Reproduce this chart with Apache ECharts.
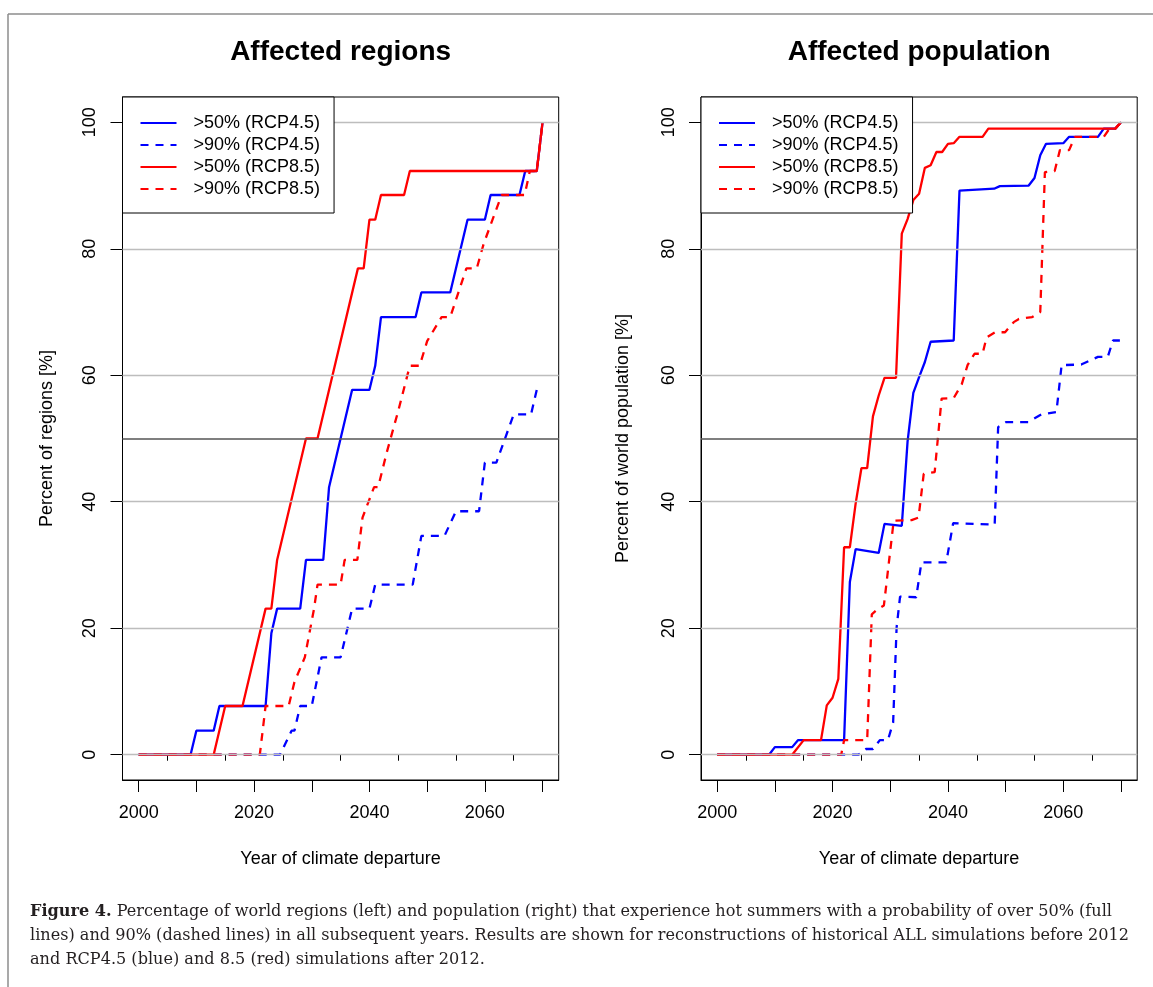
<!DOCTYPE html>
<html>
<head>
<meta charset="utf-8">
<title>Affected regions and population</title>
<script src="https://cdn.jsdelivr.net/npm/echarts@6/dist/echarts.min.js"></script>
<style>
  html, body { margin: 0; padding: 0; background: #fff; }
  #chart { width: 1153px; height: 987px; }
</style>
</head>
<body>
<div id="chart"></div>
<script>
// values: year of departure -> percent affected
var names = ['>50% (RCP4.5)', '>90% (RCP4.5)', '>50% (RCP8.5)', '>90% (RCP8.5)'];

// left panel: percent of regions
var reg50_45_years = [2000, 2009, 2010, 2013, 2014, 2022, 2023, 2024, 2028, 2029, 2032, 2033, 2037, 2040, 2041, 2042, 2048, 2049, 2054, 2057, 2060, 2061, 2066, 2067, 2069, 2070];
var reg50_45_vals = [0, 0, 3.8, 3.8, 7.7, 7.7, 19.2, 23.1, 23.1, 30.8, 30.8, 42.3, 57.7, 57.7, 61.5, 69.2, 69.2, 73.1, 73.1, 84.6, 84.6, 88.5, 88.5, 92.3, 92.3, 100];

var reg90_45_years = [2000, 2024.5, 2026.5, 2027, 2028, 2030, 2031.7, 2035, 2037, 2040, 2041, 2047.5, 2049, 2053, 2055, 2059, 2060, 2062, 2065, 2068, 2069];
var reg90_45_vals = [0, 0, 3.8, 3.8, 7.7, 7.7, 15.4, 15.4, 23.1, 23.1, 26.9, 26.9, 34.6, 34.6, 38.5, 38.5, 46.2, 46.2, 53.8, 53.8, 57.7];

var reg50_85_years = [2000, 2013, 2015, 2018, 2022, 2023, 2024, 2029, 2031, 2038, 2039, 2040, 2041, 2042, 2046, 2047, 2069, 2070];
var reg50_85_vals = [0, 0, 7.7, 7.7, 23.1, 23.1, 30.8, 50, 50, 76.9, 76.9, 84.6, 84.6, 88.5, 88.5, 92.3, 92.3, 100];

var reg90_85_years = [2000, 2021, 2022, 2026, 2027, 2028.8, 2030.4, 2031, 2035, 2035.7, 2037.9, 2038.8, 2039.8, 2040.8, 2041.5, 2043, 2045, 2047, 2048.7, 2050, 2052.5, 2054, 2056.8, 2058.6, 2059.8, 2062.9, 2066.9, 2067.8, 2069, 2070];
var reg90_85_vals = [0, 0, 7.7, 7.7, 11.5, 15.4, 23.1, 26.9, 26.9, 30.8, 30.8, 37.5, 39.9, 42.3, 42.3, 47.8, 54.4, 61.5, 61.5, 65.4, 69.2, 69.2, 76.9, 76.9, 80.8, 88.5, 88.5, 92.3, 92.3, 100];

// right panel: percent of world population
var pop50_45_years = [2000, 2009, 2010, 2013, 2014, 2022, 2023, 2024, 2028, 2029, 2032, 2033, 2034, 2035, 2036, 2037, 2041, 2042, 2048, 2049, 2054, 2055, 2056, 2057, 2060, 2061, 2066, 2067, 2069, 2070];
var pop50_45_vals = [0, 0, 1.2, 1.2, 2.3, 2.3, 27.3, 32.5, 31.9, 36.5, 36.2, 49.5, 57.2, 59.7, 62.1, 65.3, 65.5, 89.2, 89.5, 89.9, 90.0, 91.2, 94.8, 96.6, 96.7, 97.7, 97.7, 99, 99, 100];

var pop90_45_years = [2000, 2024.5, 2025.8, 2027, 2028.2, 2029.6, 2030.5, 2031.1, 2031.7, 2034.5, 2035.4, 2039.7, 2040.9, 2048.1, 2048.7, 2050.1, 2053.9, 2056.2, 2058.8, 2059.7, 2063.1, 2066, 2067.7, 2068.6, 2069.8];
var pop90_45_vals = [0, 0, 0.9, 0.9, 2.3, 2.3, 5.1, 20.1, 25.0, 24.9, 30.4, 30.4, 36.6, 36.4, 51.8, 52.6, 52.6, 53.8, 54.2, 61.6, 61.7, 62.9, 62.9, 65.5, 65.5];

var pop50_85_years = [2000, 2013, 2015, 2018, 2019, 2020, 2021, 2022, 2023, 2024, 2025, 2026, 2027, 2028, 2029, 2031, 2032, 2033, 2034, 2035, 2036, 2037, 2038, 2039, 2040, 2041, 2042, 2046, 2047, 2069, 2070];
var pop50_85_vals = [0, 0, 2.3, 2.3, 7.8, 9.0, 12.0, 32.8, 32.8, 39.7, 45.3, 45.3, 53.5, 56.8, 59.6, 59.6, 82.4, 84.7, 87.7, 88.7, 92.8, 93.2, 95.3, 95.3, 96.6, 96.7, 97.7, 97.7, 99, 99, 100];

var pop90_85_years = [2000, 2021.5, 2022, 2026, 2026.8, 2027.8, 2028.9, 2030.6, 2033.7, 2034.9, 2035.8, 2037.7, 2038.9, 2041, 2042.4, 2043.4, 2044.6, 2046, 2046.7, 2048.2, 2049.9, 2051.4, 2052.3, 2054.6, 2056, 2056.8, 2058.5, 2059.4, 2061, 2062, 2067, 2068, 2069, 2070];
var pop90_85_vals = [0, 0, 2.3, 2.3, 22.2, 23.0, 23.6, 37.0, 37.1, 37.5, 44.4, 44.7, 56.3, 56.4, 58.6, 61.6, 63.4, 63.4, 66.0, 66.8, 66.8, 68.4, 68.9, 69.2, 70.0, 92.1, 92.3, 95.6, 95.6, 97.7, 97.7, 99, 99, 100];

// axis ticks and labels
var xMajorTicks = [2000, 2010, 2020, 2030, 2040, 2050, 2060, 2070];
var xMinorTicks = [2005, 2015, 2025, 2035, 2045, 2055, 2065];
var xLabels = [2000, 2020, 2040, 2060];
var yTicks = [0, 20, 40, 60, 80, 100];

var FONT = '"Liberation Sans", Arial, Helvetica, sans-serif';
var SERIF = '"DejaVu Serif", "Liberation Serif", serif';
var BLUE = '#0000ff';
var RED = '#ff0000';
var DASH = [8, 7];

function zip(xs, ys) {
  return xs.map(function (x, i) { return [x, ys[i]]; });
}

var chart = echarts.init(document.getElementById('chart'), null, { renderer: 'canvas' });

var grids = [
  { left: 122.5, top: 97, width: 436.2, height: 683 },
  { left: 701, top: 97, width: 436.2, height: 683 }
];
var yNames = ['Percent of regions [%]', 'Percent of world population [%]'];

var xAxes = [];
var yAxes = [];
grids.forEach(function (g, i) {
  xAxes.push({
    gridIndex: i,
    type: 'value',
    min: 1997.2,
    max: 2072.8,
    axisLine: { show: true, onZero: false, lineStyle: { color: '#000', width: 1 } },
    axisTick: { show: true, customValues: xMajorTicks, length: 12, lineStyle: { color: '#000', width: 1 } },
    axisLabel: {
      customValues: xLabels, fontSize: 18, color: '#000', fontFamily: FONT, margin: 24,
      formatter: function (v) { return String(v); }
    },
    splitLine: { show: false },
    name: 'Year of climate departure',
    nameLocation: 'middle',
    nameGap: 70,
    nameTextStyle: { fontSize: 18, color: '#000', fontFamily: FONT }
  });
  // short 5-year ticks
  xAxes.push({
    gridIndex: i,
    type: 'value',
    min: 1997.2,
    max: 2072.8,
    position: 'bottom',
    axisLine: { show: false },
    axisTick: { show: true, customValues: xMinorTicks, length: 6, lineStyle: { color: '#000', width: 1 } },
    axisLabel: { show: false },
    splitLine: { show: false }
  });
  yAxes.push({
    gridIndex: i,
    type: 'value',
    min: -4,
    max: 104,
    axisLine: { show: true, onZero: false, lineStyle: { color: '#000', width: 1 } },
    axisTick: { show: true, customValues: yTicks, length: 12, lineStyle: { color: '#000', width: 1 } },
    axisLabel: {
      customValues: yTicks, rotate: 90, fontSize: 18, color: '#000', fontFamily: FONT, margin: 23,
      formatter: function (v) { return String(v); }
    },
    splitLine: { show: false },
    name: yNames[i],
    nameLocation: 'middle',
    nameGap: i === 0 ? 66 : 69,
    nameTextStyle: { fontSize: 18, color: '#000', fontFamily: FONT }
  });
});

function curve(name, xIdx, yIdx, years, vals, color, dashed) {
  return {
    name: name,
    type: 'line',
    xAxisIndex: xIdx,
    yAxisIndex: yIdx,
    data: zip(years, vals),
    showSymbol: false,
    symbol: 'none',
    z: 3,
    color: color,
    lineStyle: { color: color, width: 2.3, type: dashed ? DASH : 'solid' },
    emphasis: { disabled: true }
  };
}

function gridLines(xIdx, yIdx) {
  var data = yTicks.map(function (v) { return { yAxis: v }; });
  data.push({ yAxis: 50, lineStyle: { color: '#555', width: 1.6 } });
  return {
    type: 'line',
    xAxisIndex: xIdx,
    yAxisIndex: yIdx,
    data: [],
    z: 1,
    silent: true,
    markLine: {
      silent: true,
      symbol: 'none',
      label: { show: false },
      lineStyle: { color: '#bdbdbd', width: 1.3, type: 'solid' },
      data: data
    }
  };
}

var series = [
  gridLines(0, 0),
  curve(names[0], 0, 0, reg50_45_years, reg50_45_vals, BLUE, false),
  curve(names[1], 0, 0, reg90_45_years, reg90_45_vals, BLUE, true),
  curve(names[2], 0, 0, reg50_85_years, reg50_85_vals, RED, false),
  curve(names[3], 0, 0, reg90_85_years, reg90_85_vals, RED, true),
  gridLines(2, 1),
  curve(names[0], 2, 1, pop50_45_years, pop50_45_vals, BLUE, false),
  curve(names[1], 2, 1, pop90_45_years, pop90_45_vals, BLUE, true),
  curve(names[2], 2, 1, pop50_85_years, pop50_85_vals, RED, false),
  curve(names[3], 2, 1, pop90_85_years, pop90_85_vals, RED, true)
];

function legendAt(left) {
  return {
    left: left,
    top: 97,
    orient: 'vertical',
    data: names,
    selectedMode: false,
    backgroundColor: '#fff',
    borderColor: '#000',
    borderWidth: 1,
    borderRadius: 0,
    padding: [17, 14, 15, 17],
    itemGap: 4,
    itemWidth: 36,
    itemHeight: 14,
    z: 10,
    itemStyle: { opacity: 0 },
    textStyle: { fontSize: 18, color: '#000', fontFamily: FONT, padding: [0, 0, 0, 12] }
  };
}

var caption = '{b|Figure 4.} Percentage of world regions (left) and population (right) that experience hot summers with a probability of over 50% (full\n' +
  'lines) and 90% (dashed lines) in all subsequent years. Results are shown for reconstructions of historical ALL simulations before 2012\n' +
  'and RCP4.5 (blue) and 8.5 (red) simulations after 2012.';

chart.setOption({
  animation: false,
  backgroundColor: '#fff',
  grid: grids.map(function (g) {
    return Object.assign({ show: true, borderColor: '#000', borderWidth: 1, backgroundColor: 'transparent' }, g);
  }),
  xAxis: xAxes,
  yAxis: yAxes,
  legend: [legendAt(122.5), legendAt(701)],
  series: series,
  graphic: [
    { type: 'line', shape: { x1: 8, y1: 14, x2: 1153, y2: 14 }, style: { stroke: '#8c8c8c', lineWidth: 1.5 } },
    { type: 'line', shape: { x1: 8, y1: 14, x2: 8, y2: 987 }, style: { stroke: '#8c8c8c', lineWidth: 1.5 } },
    {
      type: 'text', x: 340.6, y: 52,
      style: { text: 'Affected regions', fontSize: 28, fontWeight: 'bold', fontFamily: FONT, fill: '#000', align: 'center', verticalAlign: 'middle' }
    },
    {
      type: 'text', x: 919.1, y: 52,
      style: { text: 'Affected population', fontSize: 28, fontWeight: 'bold', fontFamily: FONT, fill: '#000', align: 'center', verticalAlign: 'middle' }
    },
    {
      type: 'text', x: 30, y: 900,
      style: {
        text: caption,
        fontSize: 16.1,
        lineHeight: 24,
        fontFamily: SERIF,
        fill: '#231f20',
        align: 'left',
        verticalAlign: 'top',
        rich: { b: { fontWeight: 'bold', fontSize: 16.1, lineHeight: 24, fontFamily: SERIF } }
      }
    }
  ]
});
</script>
</body>
</html>
